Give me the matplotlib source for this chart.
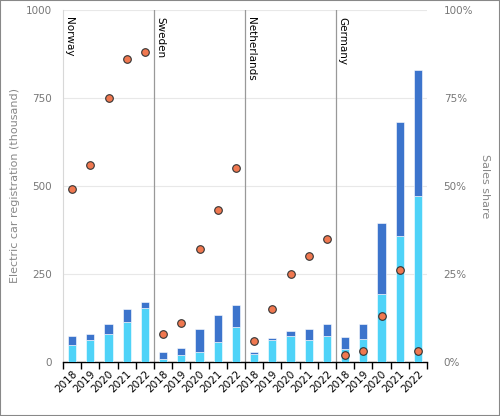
import matplotlib.pyplot as plt
import numpy as np

countries = ["Norway", "Sweden", "Netherlands", "Germany"]
years = ["2018", "2019", "2020", "2021", "2022"]

# thousand registrations, per country, 2018-2022
bev = [48, 63, 79, 114, 154,
       8, 19, 29, 57, 98,
       23, 61, 74, 63, 74,
       37, 65, 193, 358, 472]
total = [72, 80, 106, 150, 169,
         27, 40, 94, 134, 162,
         28, 67, 87, 94, 106,
         69, 108, 393, 680, 830]
share = [49, 56, 75, 86, 88,
         8, 11, 32, 43, 55,
         6, 15, 25, 30, 35,
         2, 3, 13, 26, 3]

phev = [t - b for t, b in zip(total, bev)]
x = np.arange(len(bev))

fig = plt.figure(figsize=(5, 4.16), dpi=100)
ax = fig.add_axes([0.126, 0.1305, 0.728, 0.846])

ax.bar(x, bev, width=0.46, color="#4fd3f8", edgecolor="white", linewidth=0.4, zorder=3)
ax.bar(x, phev, bottom=bev, width=0.46, color="#3c74cc", edgecolor="white", linewidth=0.4, zorder=3)

ax.set_xlim(-0.5, len(bev) - 0.5)
ax.set_ylim(0, 1000)
ax.set_yticks([0, 250, 500, 750, 1000])
ax.grid(axis="y", color="#e8e8e8", linewidth=0.8, zorder=0)
ax.tick_params(axis="y", length=0, labelsize=7.5, labelcolor="#777777", pad=8)
ax.set_ylabel("Electric car registration (thousand)", color="#888888", fontsize=8)

ax.set_xticks(x)
ax.set_xticklabels(years * len(countries), rotation=45, fontsize=7.5, ha="right",
                   rotation_mode="anchor")
ax.tick_params(axis="x", which="major", length=0, pad=5)
ax.set_xticks(np.arange(-0.5, len(bev)), minor=True)
ax.tick_params(axis="x", which="minor", length=5, width=1, color="black")

for s in ["top", "right"]:
    ax.spines[s].set_visible(False)
ax.spines["left"].set_color("#d8d8d8")
ax.spines["bottom"].set_color("black")
ax.spines["bottom"].set_linewidth(1)

for i, name in enumerate(countries):
    if i > 0:
        ax.axvline(i * 5 - 0.5, color="#999999", linewidth=0.9, zorder=2)
    ax.text(i * 5 - 0.42, 980, name, rotation=-90, ha="left", va="top", fontsize=7.5)

ax2 = ax.twinx()
ax2.set_ylim(0, 100)
ax2.scatter(x, share, s=30, color="#f07850", edgecolor="#333333", linewidth=0.8, zorder=5)
ax2.set_yticks([0, 25, 50, 75, 100])
ax2.set_yticklabels(["0%", "25%", "50%", "75%", "100%"])
ax2.tick_params(axis="y", length=0, labelsize=7.5, labelcolor="#777777", pad=12)
ax2.set_ylabel("Sales share", color="#888888", fontsize=8, rotation=270, labelpad=12)
for s in ax2.spines.values():
    s.set_visible(False)

fig.patches.append(plt.Rectangle((0, 0), 1, 1, transform=fig.transFigure, fill=False,
                                 edgecolor="#888888", linewidth=1.5))

fig.savefig("out.png", dpi=100)
